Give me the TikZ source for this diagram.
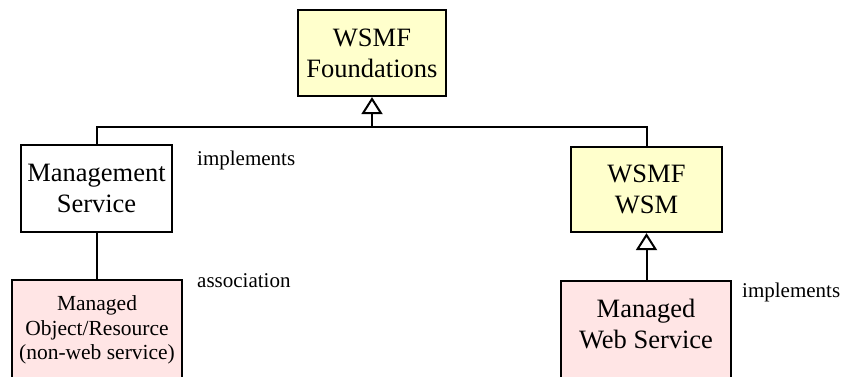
\documentclass[tikz,border=0pt]{standalone}
\usepackage{fontspec}
\setmainfont{Liberation Serif}
\usetikzlibrary{arrows.meta}
\definecolor{pkgyellow}{HTML}{FFFFCC}
\definecolor{objpink}{HTML}{FFE5E5}
\tikzset{
  box/.style={draw=black, line width=2.2pt, rectangle, inner sep=0pt},
  yellowbox/.style={box, fill=pkgyellow},
  whitebox/.style={box, fill=white},
  pinkbox/.style={box, fill=objpink},
  bigtext/.style={align=center, font=\fontsize{26.5}{31}\selectfont},
  smalltext/.style={align=center, font=\fontsize{21.5}{24.5}\selectfont},
  note/.style={font=\fontsize{21}{24}\selectfont, inner sep=0pt},
  link/.style={line width=2pt},
  inherit/.style={line width=2pt, -{Triangle[open, length=17pt, width=21pt, line width=2pt]}},
}
\begin{document}
\begin{tikzpicture}[x=1pt, y=-1pt]
  \useasboundingbox (0,0) rectangle (843,377);
  \clip (0,0) rectangle (843,377);
  \fill[white] (0,0) rectangle (843,377);

  % class boxes
  \node[yellowbox, bigtext, minimum width=148pt, minimum height=86pt] (found) at (372,53) {WSMF\\Foundations};
  \node[whitebox, bigtext, minimum width=151pt, minimum height=87pt] (ms) at (96.5,188.5) {Management\\Service};
  \node[yellowbox, bigtext, minimum width=151pt, minimum height=85pt] (wsm) at (646.5,189.5) {WSMF\\WSM};

  % lower boxes run past the bottom edge
  \node[pinkbox, minimum width=170pt, minimum height=120pt, anchor=north] (mor) at (97,279) {};
  \node[smalltext] (mortext) at (97,330) {Managed\\Object/Resource\\(non-web service)};
  \node[pinkbox, minimum width=170pt, minimum height=120pt, anchor=north] (mws) at (646,280) {};
  \node[bigtext] (mwstext) at (646,324) {Managed\\Web Service};

  % generalisation towards the foundations
  \coordinate (join) at (found.south |- 0,127);
  \draw[link] (ms.north) |- (join);
  \draw[link] (wsm.north) |- (join);
  \draw[inherit] (join) -- (found.south);

  % association and implementation
  \draw[link] (ms.south) -- (ms.south |- mor.north);
  \draw[inherit] (mws.north -| wsm.south) -- (wsm.south);

  % connector notes
  \node[note, anchor=base west] (impl1) at (197,165) {implements};
  \node[note, anchor=base west] (assoc) at (197,287) {association};
  \node[note, anchor=base west] (impl2) at (742,297) {implements};
\end{tikzpicture}
\end{document}
